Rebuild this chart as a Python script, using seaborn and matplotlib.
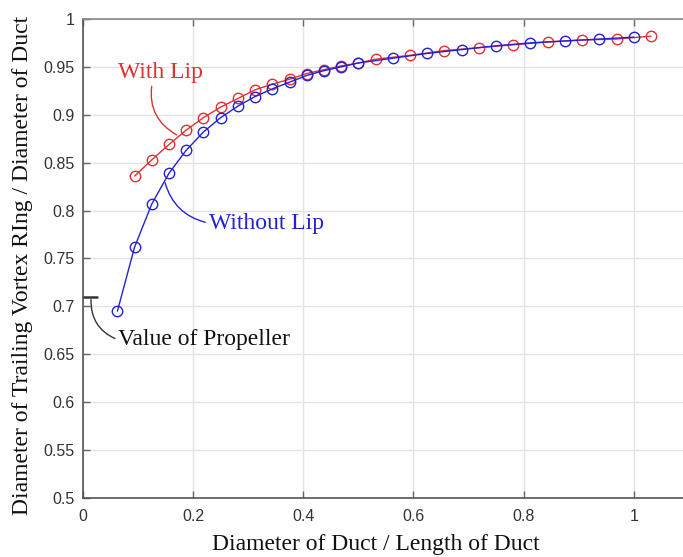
import matplotlib
matplotlib.use('Agg')
import matplotlib.pyplot as plt
import seaborn as sns
import pandas as pd

# Diameter of duct / length of duct
x_without = [0.0625, 0.09375, 0.125, 0.15625, 0.1875, 0.21875, 0.25, 0.28125,
             0.3125, 0.34375, 0.375, 0.40625, 0.4375, 0.46875, 0.5,
             0.5625, 0.625, 0.6875, 0.75, 0.8125, 0.875, 0.9375, 1.0]
y_without = [0.695, 0.762, 0.807, 0.839, 0.863, 0.882, 0.897, 0.909,
             0.919, 0.927, 0.934, 0.941, 0.946, 0.950, 0.954,
             0.959, 0.964, 0.968, 0.972, 0.975, 0.977, 0.979, 0.981]

x_with = [0.09375, 0.125, 0.15625, 0.1875, 0.21875, 0.25, 0.28125, 0.3125,
          0.34375, 0.375, 0.40625, 0.4375, 0.46875, 0.5,
          0.53125, 0.59375, 0.65625, 0.71875, 0.78125, 0.84375, 0.90625,
          0.96875, 1.03125]
y_with = [0.836, 0.853, 0.869, 0.884, 0.897, 0.908, 0.917, 0.926,
          0.932, 0.937, 0.943, 0.947, 0.951, 0.954,
          0.958, 0.962, 0.967, 0.970, 0.973, 0.976, 0.978,
          0.979, 0.982]

propeller_value = 0.71

x_ticks = [0, 0.2, 0.4, 0.6, 0.8, 1.0]
x_tick_labels = ['0', '0.2', '0.4', '0.6', '0.8', '1']
y_ticks = [0.5, 0.55, 0.6, 0.65, 0.7, 0.75, 0.8, 0.85, 0.9, 0.95, 1.0]
y_tick_labels = ['0.5', '0.55', '0.6', '0.65', '0.7', '0.75', '0.8', '0.85', '0.9', '0.95', '1']

red = '#e03030'
blue = '#2222d4'
serif = 'Liberation Serif'

sns.set_style('whitegrid')
plt.rcParams['font.family'] = ['Liberation Sans', 'DejaVu Sans']

df_with = pd.DataFrame({'x': x_with, 'y': y_with})
df_without = pd.DataFrame({'x': x_without, 'y': y_without})

fig = plt.figure(figsize=(6.83, 5.57), dpi=100)
ax = fig.add_axes([0.1215, 0.106, 0.887, 0.860])

sns.lineplot(data=df_with, x='x', y='y', ax=ax, color=red, linewidth=1.0,
             marker='o', markersize=7.5, markerfacecolor='none',
             markeredgecolor=red, markeredgewidth=1.0)
sns.lineplot(data=df_without, x='x', y='y', ax=ax, color=blue, linewidth=1.0,
             marker='o', markersize=7.5, markerfacecolor='none',
             markeredgecolor=blue, markeredgewidth=1.0)

# short mark for the propeller value
ax.plot([0, 0.025], [propeller_value, propeller_value], color='#333333', linewidth=1.8,
        clip_on=False)

ax.set_xlim(0, 1.1)
ax.set_ylim(0.5, 1.0)
ax.set_xticks(x_ticks)
ax.set_xticklabels(x_tick_labels)
ax.set_yticks(y_ticks)
ax.set_yticklabels(y_tick_labels)
ax.tick_params(axis='both', direction='in', length=5, width=1, color='#666666',
               labelsize=11.5, labelcolor='#333333')
ax.tick_params(axis='x', top=True, bottom=True, pad=8)
ax.tick_params(axis='y', left=True, right=False, pad=6)
ax.grid(True, color='#e3e3e3', linewidth=1)

for side in ['left', 'bottom']:
    ax.spines[side].set_color('#555555')
    ax.spines[side].set_linewidth(1.2)
ax.spines['top'].set_color('#888888')
ax.spines['top'].set_linewidth(1.2)
ax.spines['right'].set_visible(False)

ax.set_xlabel('Diameter of Duct / Length of Duct', family=serif, fontsize=17,
              color='#111111')
ax.set_ylabel('Diameter of Trailing Vortex RIng / Diameter of Duct', family=serif,
              fontsize=17, color='#111111')
ax.xaxis.set_label_coords(0.4835, -0.075)
ax.yaxis.set_label_coords(-0.083, 0.486)

ax.annotate('With Lip', xy=(0.170, 0.879), xytext=(0.064, 0.944),
            fontsize=17, family=serif, color=red, va='center', ha='left',
            arrowprops=dict(arrowstyle='-', color=red, lw=1.0,
                            shrinkA=0, shrinkB=0,
                            relpos=(0.4, 0.0),
                            connectionstyle='arc3,rad=0.35'))
ax.annotate('Without Lip', xy=(0.149, 0.829), xytext=(0.228, 0.787),
            fontsize=17, family=serif, color=blue, va='center', ha='left',
            arrowprops=dict(arrowstyle='-', color=blue, lw=1.0,
                            shrinkA=0, shrinkB=0,
                            relpos=(0.0, 0.5),
                            connectionstyle='arc3,rad=-0.3'))
ax.annotate('Value of Propeller', xy=(0.0145, 0.707), xytext=(0.064, 0.665),
            fontsize=17, family=serif, color='#111111', va='center', ha='left',
            arrowprops=dict(arrowstyle='-', color='#333333', lw=1.0,
                            shrinkA=0, shrinkB=0,
                            relpos=(0.0, 0.5),
                            connectionstyle='arc3,rad=-0.35'))

fig.savefig('out.png', dpi=100)
